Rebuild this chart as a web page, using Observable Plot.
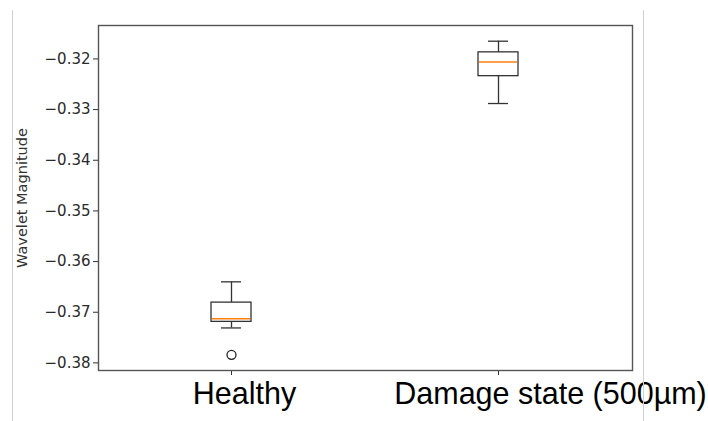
<!DOCTYPE html>
<html>
<head>
<meta charset="utf-8">
<script src="https://cdn.jsdelivr.net/npm/d3@7"></script>
<script src="https://cdn.jsdelivr.net/npm/@observablehq/plot@0.6"></script>
<style>
  html, body { margin: 0; padding: 0; background: #fff; }
  #wrap { position: relative; width: 708px; height: 421px; overflow: hidden; }
  #wrap svg { display: block; }
  .vline { position: absolute; top: 10px; width: 1px; height: 411px; background: #d0d0d0; pointer-events: none; }
</style>
</head>
<body>
<div id="wrap">
  <div id="chart"></div>
  <div class="vline" style="left:12px"></div>
  <div class="vline" style="left:643px"></div>
</div>
<script>
// ---- data ----
const categories = ["Healthy", "Damage state (500µm)"];
const whiskerLow  = [-0.3731, -0.3288];
const q1          = [-0.3719, -0.3234];
const median      = [-0.3713, -0.3206];
const q3          = [-0.3681, -0.3187];
const whiskerHigh = [-0.3640, -0.3165];
const outlierCategory = ["Healthy"];
const outlierValue    = [-0.3784];
const yTicks = [-0.38, -0.37, -0.36, -0.35, -0.34, -0.33, -0.32];
const yLabel = "Wavelet Magnitude";

const boxes = categories.map((c, i) => ({
  cat: c, lo: whiskerLow[i], q1: q1[i], med: median[i], q3: q3[i], hi: whiskerHigh[i]
}));
const outliers = outlierCategory.map((c, i) => ({cat: c, v: outlierValue[i]}));

const fmt = d => d3.format(".2f")(d);

const chart = Plot.plot({
  width: 708,
  height: 421,
  marginLeft: 98,
  marginRight: 76,
  marginTop: 25,
  marginBottom: 51,
  style: {fontFamily: "DejaVu Sans", background: "#fff", color: "#222"},
  x: {type: "band", domain: categories, paddingInner: 0.85, paddingOuter: 0.425},
  y: {domain: [-0.3815, -0.3134]},
  marks: [
    Plot.axisY({ticks: yTicks, tickFormat: fmt, tickSize: 5, tickPadding: 3, fontSize: 15, label: null, stroke: "#333", fill: "#2a2a2a"}),
    Plot.axisX({tickSize: 5, tickFormat: () => "", label: null, stroke: "#333"}),
    Plot.ruleX(boxes, {x: "cat", y1: "q3", y2: "hi", stroke: "#333", strokeWidth: 1.3}),
    Plot.ruleX(boxes, {x: "cat", y1: "lo", y2: "q1", stroke: "#333", strokeWidth: 1.3}),
    Plot.tickY(boxes, {x: "cat", y: "hi", stroke: "#333", strokeWidth: 1.3, insetLeft: 10, insetRight: 10}),
    Plot.tickY(boxes, {x: "cat", y: "lo", stroke: "#333", strokeWidth: 1.3, insetLeft: 10, insetRight: 10}),
    Plot.barY(boxes, {x: "cat", y1: "q1", y2: "q3", fill: "#fff", stroke: "#333", strokeWidth: 1.3}),
    Plot.tickY(boxes, {x: "cat", y: "med", stroke: "#ff7f0e", strokeWidth: 1.5, insetLeft: 1, insetRight: 1}),
    Plot.dot(outliers, {x: "cat", y: "v", r: 4.5, stroke: "#222", strokeWidth: 1.3, fill: "none"}),
    Plot.frame({stroke: "#555", strokeWidth: 1.4}),
    Plot.text([yLabel], {text: d => d, frameAnchor: "left", textAnchor: "middle", rotate: -90, dx: -76, fontSize: 14.5, fill: "#333"}),
    Plot.text(categories.slice(0, 1), {x: d => d, text: d => d, frameAnchor: "bottom", dy: 24, dx: 13, fontSize: 30.5, fontFamily: "Liberation Sans", fill: "#000", lineAnchor: "middle"}),
    Plot.text(categories.slice(1), {x: d => d, text: d => d, frameAnchor: "bottom", dy: 24, dx: 52, fontSize: 30.5, fontFamily: "Liberation Sans", fill: "#000", lineAnchor: "middle"})
  ]
});
document.getElementById("chart").appendChild(chart);
</script>
</body>
</html>
